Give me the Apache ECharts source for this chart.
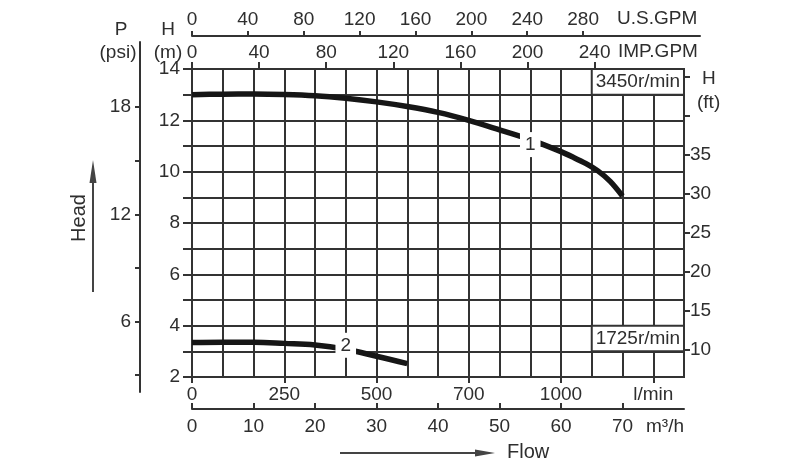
<!DOCTYPE html>
<html>
<head>
<meta charset="utf-8">
<script src="https://cdn.jsdelivr.net/npm/echarts@6/dist/echarts.min.js"></script>
<style>
html,body{margin:0;padding:0;background:#fff;}
#chart{width:800px;height:473px;}
</style>
</head>
<body>
<div id="chart"></div>
<script>
// ---- data (flow in m3/h, head in m) ----
const flow3450 = [0, 5, 10, 15, 20, 25, 30, 35, 40, 45, 50, 55, 60, 62, 64, 66, 68, 70];
const head3450 = [13.0, 13.02, 13.03, 13.01, 12.96, 12.86, 12.72, 12.54, 12.31, 12.0, 11.63, 11.25, 10.78, 10.56, 10.32, 10.03, 9.62, 9.05];
const flow1725 = [0, 5, 10, 15, 20, 25, 30, 35];
const head1725 = [3.34, 3.35, 3.35, 3.31, 3.25, 3.08, 2.81, 2.52];
const curveNames = ['1', '2'];
const curveLabelIndex = [11, 5];
const speedLabels = ['3450r/min', '1725r/min'];

// ---- tick labels ----
const m3hTicks = [0, 10, 20, 30, 40, 50, 60, 70];
const lpmTickValues = [0, 250, 500, 750, 1000, 1250];
const lpmTickLabels = ['0', '250', '500', '700', '1000', 'l/min'];
const impGpmTicks = [0, 40, 80, 120, 160, 200, 240];
const usGpmTicks = [0, 40, 80, 120, 160, 200, 240, 280];
const headMLabels = [2, 4, 6, 8, 10, 12, 14];
const headFtTicks = [10, 15, 20, 25, 30, 35, 40, 45];
const headFtLabels = [10, 15, 20, 25, 30, 35];
const psiTicks = [3, 6, 9, 12, 15, 18];
const psiLabels = [6, 12, 18];

// ---- unit conversions ----
const LPM_PER_M3H = 1000 / 60;
const M3H_PER_USGPM = 0.2271247;
const M3H_PER_IMPGPM = 0.2727654;
const FT_PER_M = 3.28084;

const FLOW_MAX = 80, HEAD_MIN = 2, HEAD_MAX = 14;
const GRID_W = 492, GPM_W = 508;

const FONT = "'Liberation Sans', Arial, sans-serif";
const TXT = '#2e2e2e';
const LINE = '#333';

function pairs(xs, ys, li, name, off) {
  return xs.map((x, i) => {
    const item = { value: [x, ys[i]] };
    if (i === li) {
      item.label = {
        show: true, position: 'inside', formatter: name,
        backgroundColor: '#fff', padding: [3, 5], color: TXT,
        fontSize: 19, fontFamily: FONT, offset: off
      };
    }
    return item;
  });
}

const labelStyle = { color: TXT, fontSize: 19, fontFamily: FONT };

const chart = echarts.init(document.getElementById('chart'), null, { renderer: 'canvas' });
chart.setOption({
  animation: false,
  backgroundColor: '#fff',
  textStyle: { fontFamily: FONT },
  grid: [
    { left: 192, top: 69, width: GRID_W, height: 308, show: true, borderColor: LINE, borderWidth: 2, containLabel: false, outerBoundsMode: 'none' },
    { left: 140, top: 42, width: 10, height: 350, show: false, containLabel: false, outerBoundsMode: 'none' },
    { left: 192, top: 36, width: GPM_W, height: 10, show: false, containLabel: false, outerBoundsMode: 'none' }
  ],
  xAxis: [
    { // m3/h
      gridIndex: 0, type: 'value', position: 'bottom', offset: 32,
      min: 0, max: FLOW_MAX, interval: 5,
      axisLine: { show: true, onZero: false, lineStyle: { color: LINE, width: 2 } },
      axisTick: { show: true, inside: true, length: 6, customValues: m3hTicks, lineStyle: { color: LINE, width: 2 } },
      axisLabel: Object.assign({ customValues: m3hTicks, margin: 8 }, labelStyle),
      splitLine: { show: false }
    },
    { // l/min
      gridIndex: 0, type: 'value', position: 'bottom', offset: 0,
      min: 0, max: FLOW_MAX * LPM_PER_M3H,
      axisLine: { show: false, onZero: false },
      axisTick: { show: true, length: 6, customValues: lpmTickValues, lineStyle: { color: LINE, width: 2 } },
      axisLabel: Object.assign({
        customValues: lpmTickValues, margin: 8,
        formatter: v => lpmTickLabels[lpmTickValues.indexOf(v)]
      }, labelStyle),
      splitLine: { show: false }
    },
    { // IMP.GPM
      gridIndex: 0, type: 'value', position: 'top', offset: 0,
      min: 0, max: FLOW_MAX / M3H_PER_IMPGPM,
      axisLine: { show: false, onZero: false },
      axisTick: { show: true, length: 7, customValues: impGpmTicks, lineStyle: { color: LINE, width: 2 } },
      axisLabel: Object.assign({ customValues: impGpmTicks, margin: 7 }, labelStyle),
      splitLine: { show: false }
    },
    { // U.S.GPM
      gridIndex: 2, type: 'value', position: 'top', offset: 0,
      min: 0, max: (FLOW_MAX * GPM_W / GRID_W) / M3H_PER_USGPM,
      axisLine: { show: true, onZero: false, lineStyle: { color: LINE, width: 2 } },
      axisTick: { show: true, length: 5, customValues: usGpmTicks, lineStyle: { color: LINE, width: 2 } },
      axisLabel: Object.assign({ customValues: usGpmTicks, margin: 7 }, labelStyle),
      splitLine: { show: false }
    },
    { gridIndex: 1, type: 'value', show: false },
    { // vertical grid lines every 5 m3/h
      gridIndex: 0, type: 'value', position: 'bottom',
      min: 0, max: FLOW_MAX, interval: 5,
      axisLine: { show: false }, axisTick: { show: false }, axisLabel: { show: false },
      splitLine: { show: true, lineStyle: { color: LINE, width: 2 } }
    }
  ],
  yAxis: [
    { // H (m)
      gridIndex: 0, type: 'value', position: 'left',
      min: HEAD_MIN, max: HEAD_MAX, interval: 1,
      axisLine: { show: true, onZero: false, lineStyle: { color: LINE, width: 2 } },
      axisTick: { show: true, length: 9, lineStyle: { color: LINE, width: 2 } },
      axisLabel: Object.assign({ customValues: headMLabels, margin: 12 }, labelStyle),
      splitLine: { show: true, lineStyle: { color: LINE, width: 2 } }
    },
    { // H (ft)
      gridIndex: 0, type: 'value', position: 'right',
      min: HEAD_MIN * FT_PER_M, max: HEAD_MAX * FT_PER_M,
      axisLine: { show: false, onZero: false },
      axisTick: { show: true, length: 6, customValues: headFtTicks, lineStyle: { color: LINE, width: 2 } },
      axisLabel: Object.assign({ customValues: headFtLabels, margin: 6 }, labelStyle),
      splitLine: { show: false }
    },
    { // P (psi)
      gridIndex: 1, type: 'value', position: 'left',
      min: 2.045, max: 21.65,
      axisLine: { show: true, onZero: false, lineStyle: { color: LINE, width: 2 } },
      axisTick: { show: true, length: 5, customValues: psiTicks, lineStyle: { color: LINE, width: 2 } },
      axisLabel: Object.assign({ customValues: psiLabels, margin: 9 }, labelStyle),
      splitLine: { show: false }
    },
    { gridIndex: 2, type: 'value', show: false }
  ],
  series: [
    {
      name: speedLabels[0], type: 'line', xAxisIndex: 0, yAxisIndex: 0,
      smooth: 0.3, symbol: 'circle', symbolSize: 0.01, showSymbol: true, showAllSymbol: true,
      lineStyle: { color: '#161616', width: 5.5, cap: 'butt' },
      itemStyle: { color: '#161616' },
      data: pairs(flow3450, head3450, curveLabelIndex[0], curveNames[0], [0, 5]),
      markArea: {
        silent: true,
        itemStyle: { color: '#fff', borderColor: LINE, borderWidth: 2 },
        label: { show: true, position: 'inside', color: TXT, fontSize: 19, fontFamily: FONT },
        data: [
          [{ name: speedLabels[0], coord: [65, 14] }, { coord: [80, 13] }],
          [{ name: speedLabels[1], coord: [65, 4] }, { coord: [80, 3] }]
        ]
      },
      z: 3
    },
    {
      name: speedLabels[1], type: 'line', xAxisIndex: 0, yAxisIndex: 0,
      smooth: 0.4, symbol: 'circle', symbolSize: 0.01, showSymbol: true, showAllSymbol: true,
      lineStyle: { color: '#161616', width: 5.5, cap: 'butt' },
      itemStyle: { color: '#161616' },
      data: pairs(flow1725, head1725, curveLabelIndex[1], curveNames[1], [0, -4]),
      z: 3
    }
  ],
  graphic: [
    { type: 'text', x: 121, y: 30, style: { text: 'P', fill: TXT, font: "19px " + FONT, align: 'center', verticalAlign: 'middle' } },
    { type: 'text', x: 118, y: 53, style: { text: '(psi)', fill: TXT, font: "19px " + FONT, align: 'center', verticalAlign: 'middle' } },
    { type: 'text', x: 168, y: 30, style: { text: 'H', fill: TXT, font: "19px " + FONT, align: 'center', verticalAlign: 'middle' } },
    { type: 'text', x: 168, y: 53, style: { text: '(m)', fill: TXT, font: "19px " + FONT, align: 'center', verticalAlign: 'middle' } },
    { type: 'text', x: 617, y: 19, style: { text: 'U.S.GPM', fill: TXT, font: "19px " + FONT, align: 'left', verticalAlign: 'middle' } },
    { type: 'text', x: 618, y: 52, style: { text: 'IMP.GPM', fill: TXT, font: "19px " + FONT, align: 'left', verticalAlign: 'middle' } },
    { type: 'text', x: 702, y: 79, style: { text: 'H', fill: TXT, font: "19px " + FONT, align: 'left', verticalAlign: 'middle' } },
    { type: 'text', x: 697, y: 103, style: { text: '(ft)', fill: TXT, font: "19px " + FONT, align: 'left', verticalAlign: 'middle' } },
    { type: 'text', x: 646, y: 427, style: { text: 'm³/h', fill: TXT, font: "19px " + FONT, align: 'left', verticalAlign: 'middle' } },
    { type: 'text', x: 79, y: 218, rotation: Math.PI / 2, style: { text: 'Head', fill: TXT, font: "20px " + FONT, align: 'center', verticalAlign: 'middle' } },
    { type: 'line', shape: { x1: 93, y1: 292, x2: 93, y2: 178 }, style: { stroke: '#444', lineWidth: 2 } },
    { type: 'polygon', shape: { points: [[93, 160], [89.5, 183], [96.5, 183]] }, style: { fill: '#444' } },
    { type: 'line', shape: { x1: 340, y1: 453, x2: 480, y2: 453 }, style: { stroke: '#444', lineWidth: 2 } },
    { type: 'polygon', shape: { points: [[495, 453], [475, 449.5], [475, 456.5]] }, style: { fill: '#444' } },
    { type: 'text', x: 507, y: 452, style: { text: 'Flow', fill: TXT, font: "20px " + FONT, align: 'left', verticalAlign: 'middle' } }
  ]
});
</script>
</body>
</html>
